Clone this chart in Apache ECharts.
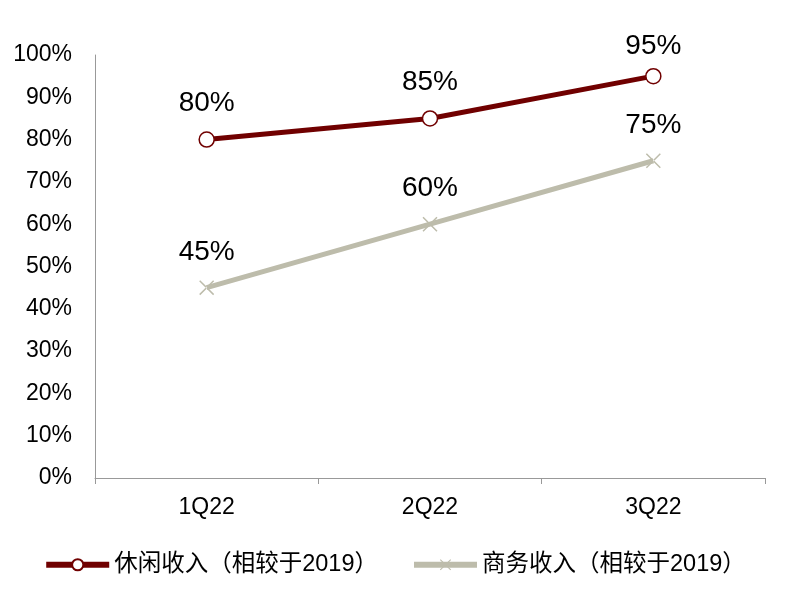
<!DOCTYPE html>
<html>
<head>
<meta charset="utf-8">
<script src="https://cdn.jsdelivr.net/npm/echarts@6/dist/echarts.min.js"></script>
<style>
  html, body { margin: 0; padding: 0; background: #fff; }
  #main { width: 789px; height: 598px; }
</style>
</head>
<body>
<div id="main"></div>
<script>
// 数据
var categories = ['1Q22', '2Q22', '3Q22'];
var leisure = [80, 85, 95];    // 休闲收入（相较于2019）
var business = [45, 60, 75];   // 商务收入（相较于2019）
var seriesNames = ['休闲收入（相较于2019）', '商务收入（相较于2019）'];
var yTicks = { min: 0, max: 100, step: 10 };

var FONT = '"Liberation Sans", Arial, "Noto Sans CJK SC", sans-serif';
var RED = '#700000';
var GREY = '#BDBCAB';
// 叉号
var crossPath = 'path://M0,0.7L0.7,0L10,9.3L9.3,10Z M9.3,0L0,9.3L0.7,10L10,0.7Z';

function labelled(vals, dist) {
  return vals.map(function (v, i) {
    return { value: v, label: { distance: dist[i] } };
  });
}

var myChart = echarts.init(document.getElementById('main'));
var option = {
  animation: false,
  grid: { left: 95, right: 24, top: 55, bottom: 120, containLabel: false },
  legend: {
    top: 548,
    left: 'center',
    itemWidth: 63,
    itemHeight: 14,
    itemGap: 33,
    textStyle: { fontFamily: FONT, fontSize: 23.5, color: '#000' },
    lineStyle: { width: 6 },
    data: seriesNames
  },
  xAxis: {
    type: 'category',
    data: categories,
    boundaryGap: true,
    axisLine: { lineStyle: { color: '#999', width: 1 } },
    axisTick: { show: true, length: 6, lineStyle: { color: '#999' } },
    axisLabel: { fontFamily: FONT, fontSize: 23, color: '#000', margin: 18 },
    splitLine: { show: false }
  },
  yAxis: {
    type: 'value',
    min: yTicks.min,
    max: yTicks.max,
    interval: yTicks.step,
    axisLine: { show: true, lineStyle: { color: '#999', width: 1 } },
    axisTick: { show: false },
    axisLabel: { fontFamily: FONT, fontSize: 23, color: '#000', margin: 23, formatter: '{value}%' },
    splitLine: { show: false }
  },
  series: [
    {
      name: seriesNames[0],
      type: 'line',
      data: labelled(leisure, [14, 14, 8]),
      symbol: 'circle',
      symbolSize: 15,
      lineStyle: { color: RED, width: 5 },
      itemStyle: { color: '#fff', borderColor: RED, borderWidth: 1.5 },
      label: {
        show: true, position: 'top', fontFamily: FONT, fontSize: 28, color: '#000',
        formatter: '{c}%'
      },
      z: 3
    },
    {
      name: seriesNames[1],
      type: 'line',
      data: labelled(business, [14, 14, 14]),
      symbol: crossPath,
      symbolSize: 15,
      lineStyle: { color: GREY, width: 5 },
      itemStyle: { color: GREY },
      label: {
        show: true, position: 'top', fontFamily: FONT, fontSize: 28, color: '#000',
        formatter: '{c}%'
      },
      z: 2
    }
  ]
};
myChart.setOption(option);
</script>
</body>
</html>
